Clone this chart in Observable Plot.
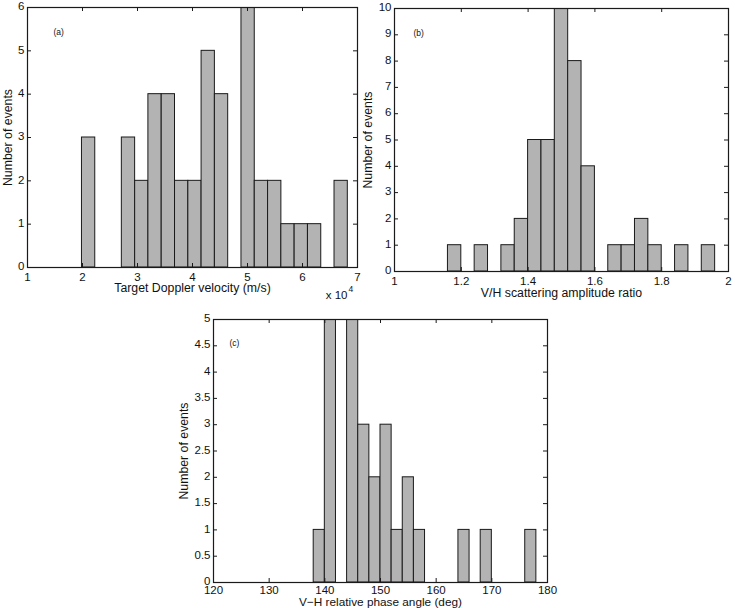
<!DOCTYPE html>
<html>
<head>
<meta charset="utf-8">
<script src="https://cdn.jsdelivr.net/npm/d3@7"></script>
<script src="https://cdn.jsdelivr.net/npm/@observablehq/plot@0.6"></script>
<style>
  html, body { margin: 0; padding: 0; background: #fff; }
  #fig { position: relative; width: 735px; height: 608px; overflow: hidden;
         font-family: "Liberation Sans", Arial, sans-serif; }
  #fig svg { position: absolute; }
</style>
</head>
<body>
<div id="fig"></div>
<script>
// (a) Target Doppler velocity, in units of 10^4 m/s
const dopplerCenters = [2.111, 2.352, 2.594, 2.836, 3.078, 3.319, 3.561, 3.803, 4.045, 4.286,
                        4.528, 4.770, 5.011, 5.253, 5.495, 5.736, 5.978, 6.220, 6.462, 6.703];
const dopplerCounts  = [3, 0, 0, 3, 2, 4, 4, 2, 2, 5, 4, 0, 6, 2, 2, 1, 1, 1, 0, 2];
const dopplerBinWidth = 0.2417;
const dopplerTicks = [1, 2, 3, 4, 5, 6, 7];
const dopplerCountTicks = [0, 1, 2, 3, 4, 5, 6];

// (b) V/H scattering amplitude ratio
const ratioCenters = [1.18, 1.22, 1.26, 1.30, 1.34, 1.38, 1.42, 1.46, 1.50, 1.54,
                      1.58, 1.62, 1.66, 1.70, 1.74, 1.78, 1.82, 1.86, 1.90, 1.94];
const ratioCounts  = [1, 0, 1, 0, 1, 2, 5, 5, 10, 8, 4, 0, 1, 1, 2, 1, 0, 1, 0, 1];
const ratioBinWidth = 0.04;
const ratioTicks = [1, 1.2, 1.4, 1.6, 1.8, 2];
const ratioCountTicks = [0, 1, 2, 3, 4, 5, 6, 7, 8, 9, 10];

// (c) V-H relative phase angle, degrees
const phaseCenters = [139, 141, 143, 145, 147, 149, 151, 153, 155, 157,
                      159, 161, 163, 165, 167, 169, 171, 173, 175, 177];
const phaseCounts  = [1, 5, 0, 5, 3, 2, 3, 1, 2, 1, 0, 0, 0, 1, 0, 1, 0, 0, 0, 1];
const phaseBinWidth = 2;
const phaseTicks = [120, 130, 140, 150, 160, 170, 180];
const phaseCountTicks = [0, 0.5, 1, 1.5, 2, 2.5, 3, 3.5, 4, 4.5, 5];

const yTitle = "Number of events";
const fig = document.getElementById("fig");

function histPanel(p) {
  const bins = p.centers.map((c, i) => ({x1: c - p.binWidth / 2, x2: c + p.binWidth / 2, count: p.counts[i]}));
  const innerH = p.height - p.marginTop - p.marginBottom;
  const innerW = p.width - p.marginLeft - p.marginRight;
  const tick = 4;
  const fmt = d => String(d);
  const marks = [
    Plot.rectY(bins, {x1: "x1", x2: "x2", y1: 0, y2: "count",
                      fill: "#b3b3b3", stroke: "#1a1a1a", strokeWidth: 1, clip: true}),
    // inward ticks on all four sides
    Plot.tickX(p.xTicks, {x: d => d, insetTop: innerH - tick, stroke: "#1a1a1a"}),
    Plot.tickX(p.xTicks, {x: d => d, insetBottom: innerH - tick, stroke: "#1a1a1a"}),
    Plot.tickY(p.yTicks, {y: d => d, insetRight: innerW - tick, stroke: "#1a1a1a"}),
    Plot.tickY(p.yTicks, {y: d => d, insetLeft: innerW - tick, stroke: "#1a1a1a"}),
    Plot.frame({stroke: "#1a1a1a", strokeWidth: 1.2}),
    Plot.axisX({ticks: p.xTicks, tickSize: 0, tickPadding: p.xTickPadding ?? 5, tickFormat: fmt,
                label: null, fontSize: 11.5, fill: "#111"}),
    Plot.axisY({ticks: p.yTicks, tickSize: 0, tickPadding: 3, tickFormat: fmt, label: null,
                fontSize: 11.5, fill: "#111", dy: -1}),
    Plot.text([p.xLabel], {frameAnchor: "bottom", dy: p.xLabelDy, lineAnchor: "middle",
                           fontSize: p.xLabelSize ?? 12.3, fill: "#111"}),
    Plot.text([yTitle], {frameAnchor: "left", dx: p.yLabelDx, rotate: -90, textAnchor: "middle",
                         lineAnchor: "middle", fontSize: 12.3, fill: "#111"}),
    Plot.text([p.tag], {frameAnchor: "top-left", dx: p.tagDx, dy: p.tagDy, textAnchor: "start",
                        lineAnchor: "middle", fontSize: 8.5, fill: "#111"})
  ];
  if (p.extra) marks.push(...p.extra);
  const svg = Plot.plot({
    width: p.width, height: p.height,
    marginLeft: p.marginLeft, marginRight: p.marginRight,
    marginTop: p.marginTop, marginBottom: p.marginBottom,
    x: {domain: p.xDomain},
    y: {domain: p.yDomain},
    style: {fontFamily: "'Liberation Sans', Arial, sans-serif", fontSize: "11px",
            background: "transparent", overflow: "visible", color: "#111"},
    marks
  });
  svg.style.left = p.left + "px";
  svg.style.top = p.top + "px";
  fig.appendChild(svg);
}

histPanel({
  centers: dopplerCenters, counts: dopplerCounts, binWidth: dopplerBinWidth,
  xDomain: [1, 7], yDomain: [0, 6], xTicks: dopplerTicks, yTicks: dopplerCountTicks,
  xLabel: "Target Doppler velocity (m/s)", tag: "(a)",
  left: 0, top: 0, width: 370, height: 300,
  marginLeft: 27, marginRight: 13, marginTop: 7, marginBottom: 33,
  xLabelDy: 21, yLabelDx: -19, tagDx: 26, tagDy: 25,
  extra: [
    Plot.text(["x 10"], {frameAnchor: "bottom-right", dx: -10, dy: 28, textAnchor: "end",
                         lineAnchor: "middle", fontSize: 11.5, fill: "#111"}),
    Plot.text(["4"], {frameAnchor: "bottom-right", dx: -9, dy: 22, textAnchor: "start",
                      lineAnchor: "middle", fontSize: 8.5, fill: "#111"})
  ]
});

histPanel({
  centers: ratioCenters, counts: ratioCounts, binWidth: ratioBinWidth,
  xDomain: [1, 2], yDomain: [0, 10], xTicks: ratioTicks, yTicks: ratioCountTicks,
  xLabel: "V/H scattering amplitude ratio", tag: "(b)",
  left: 370, top: 0, width: 365, height: 300,
  marginLeft: 24, marginRight: 7, marginTop: 8, marginBottom: 29,
  xLabelDy: 22, yLabelDx: -26, tagDx: 19, tagDy: 25
});

histPanel({
  centers: phaseCenters, counts: phaseCounts, binWidth: phaseBinWidth,
  xDomain: [120, 180], yDomain: [0, 5], xTicks: phaseTicks, yTicks: phaseCountTicks,
  xLabel: "V\u2212H relative phase angle (deg)", tag: "(c)",
  left: 160, top: 300, width: 400, height: 308,
  marginLeft: 53, marginRight: 13, marginTop: 19, marginBottom: 26,
  xTickPadding: 3, xLabelDy: 19.3, xLabelSize: 11.8,
  yLabelDx: -29, tagDx: 16, tagDy: 24
});
</script>
</body>
</html>
